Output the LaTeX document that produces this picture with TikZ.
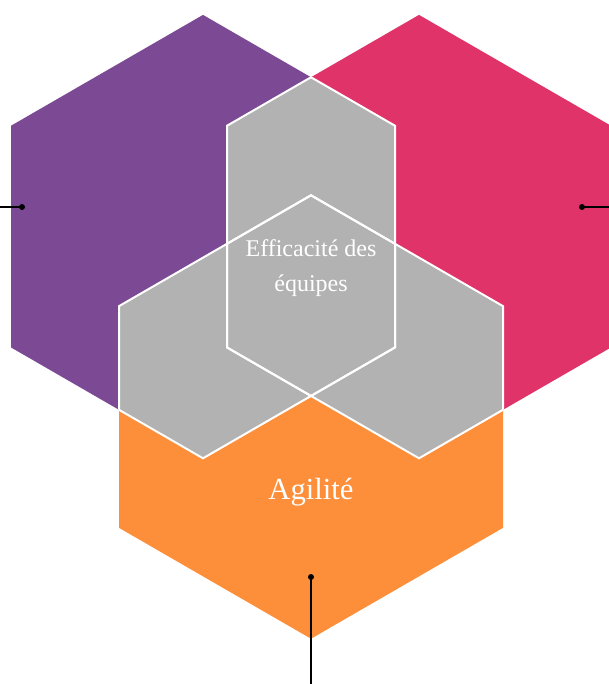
\documentclass[tikz,border=0pt]{standalone}
\usepackage{fontspec}
\setmainfont{Liberation Serif}
\usepackage{tikz}
\usetikzlibrary{positioning}

\definecolor{hexpurple}{HTML}{7C4994}
\definecolor{hexpink}{HTML}{E0336A}
\definecolor{hexorange}{HTML}{FD8E3A}
\definecolor{hexgray}{HTML}{B2B2B2}

% one pointy-top hexagon around (0,0), in pixel units
\newcommand{\hexpath}{(0,-221.7) -- (192,-110.85) -- (192,110.85) -- (0,221.7) -- (-192,110.85) -- (-192,-110.85) -- cycle}

\begin{document}
\begin{tikzpicture}[x=0.75pt, y=-0.75pt,
        hex_purple/.style={shift={(203,236.6)}},
        hex_pink/.style={shift={(419,236.6)}},
        hex_orange/.style={shift={(311,417)}},
        overlap_line/.style={draw=white, line width=1.5pt, line join=miter},
        dot_node/.style={circle, fill=black, inner sep=0pt, minimum size=4.5pt},
        link_line/.style={black, line width=1pt},
        label_text/.style={text=white, inner sep=0pt}
        ]
            \useasboundingbox (0,0) rectangle (609,684);
            \fill[white] (0,0) rectangle (609,684);

            % Hexagons
            \fill[hexpurple, hex_purple] \hexpath;
            \fill[hexpink, hex_pink] \hexpath;
            \fill[hexorange, hex_orange] \hexpath;

            % Overlaps
            \begin{scope}
                \clip[hex_purple] \hexpath;
                \fill[hexgray, hex_pink] \hexpath;
                \fill[hexgray, hex_orange] \hexpath;
            \end{scope}
            \begin{scope}
                \clip[hex_pink] \hexpath;
                \fill[hexgray, hex_orange] \hexpath;
            \end{scope}

            % Outlines of the overlaps
            \begin{scope}
                \clip[hex_purple] \hexpath;
                \draw[overlap_line, hex_pink] \hexpath;
                \draw[overlap_line, hex_orange] \hexpath;
            \end{scope}
            \begin{scope}
                \clip[hex_pink] \hexpath;
                \draw[overlap_line, hex_purple] \hexpath;
                \draw[overlap_line, hex_orange] \hexpath;
            \end{scope}
            \begin{scope}
                \clip[hex_orange] \hexpath;
                \draw[overlap_line, hex_purple] \hexpath;
                \draw[overlap_line, hex_pink] \hexpath;
            \end{scope}

            % Text
            \node[label_text, align=center, font=\fontsize{18}{26}\selectfont] (team_text) at (311,268) {Efficacité des\\équipes};
            \node[label_text, anchor=base, font=\fontsize{23}{28}\selectfont] (agility_text) at (311,499) {Agilité};

            % Connectors
            \node[dot_node] (purple_dot) at (22,207) {};
            \node[dot_node] (pink_dot) at (582,207) {};
            \node[dot_node] (orange_dot) at (311,577) {};
            \coordinate (purple_end) at (0,207);
            \coordinate (pink_end) at (609,207);
            \coordinate (orange_end) at (311,684);
            \draw[link_line] (purple_dot.center) -- (purple_end);
            \draw[link_line] (pink_dot.center) -- (pink_end);
            \draw[link_line] (orange_dot.center) -- (orange_end);
        \end{tikzpicture}
\end{document}
